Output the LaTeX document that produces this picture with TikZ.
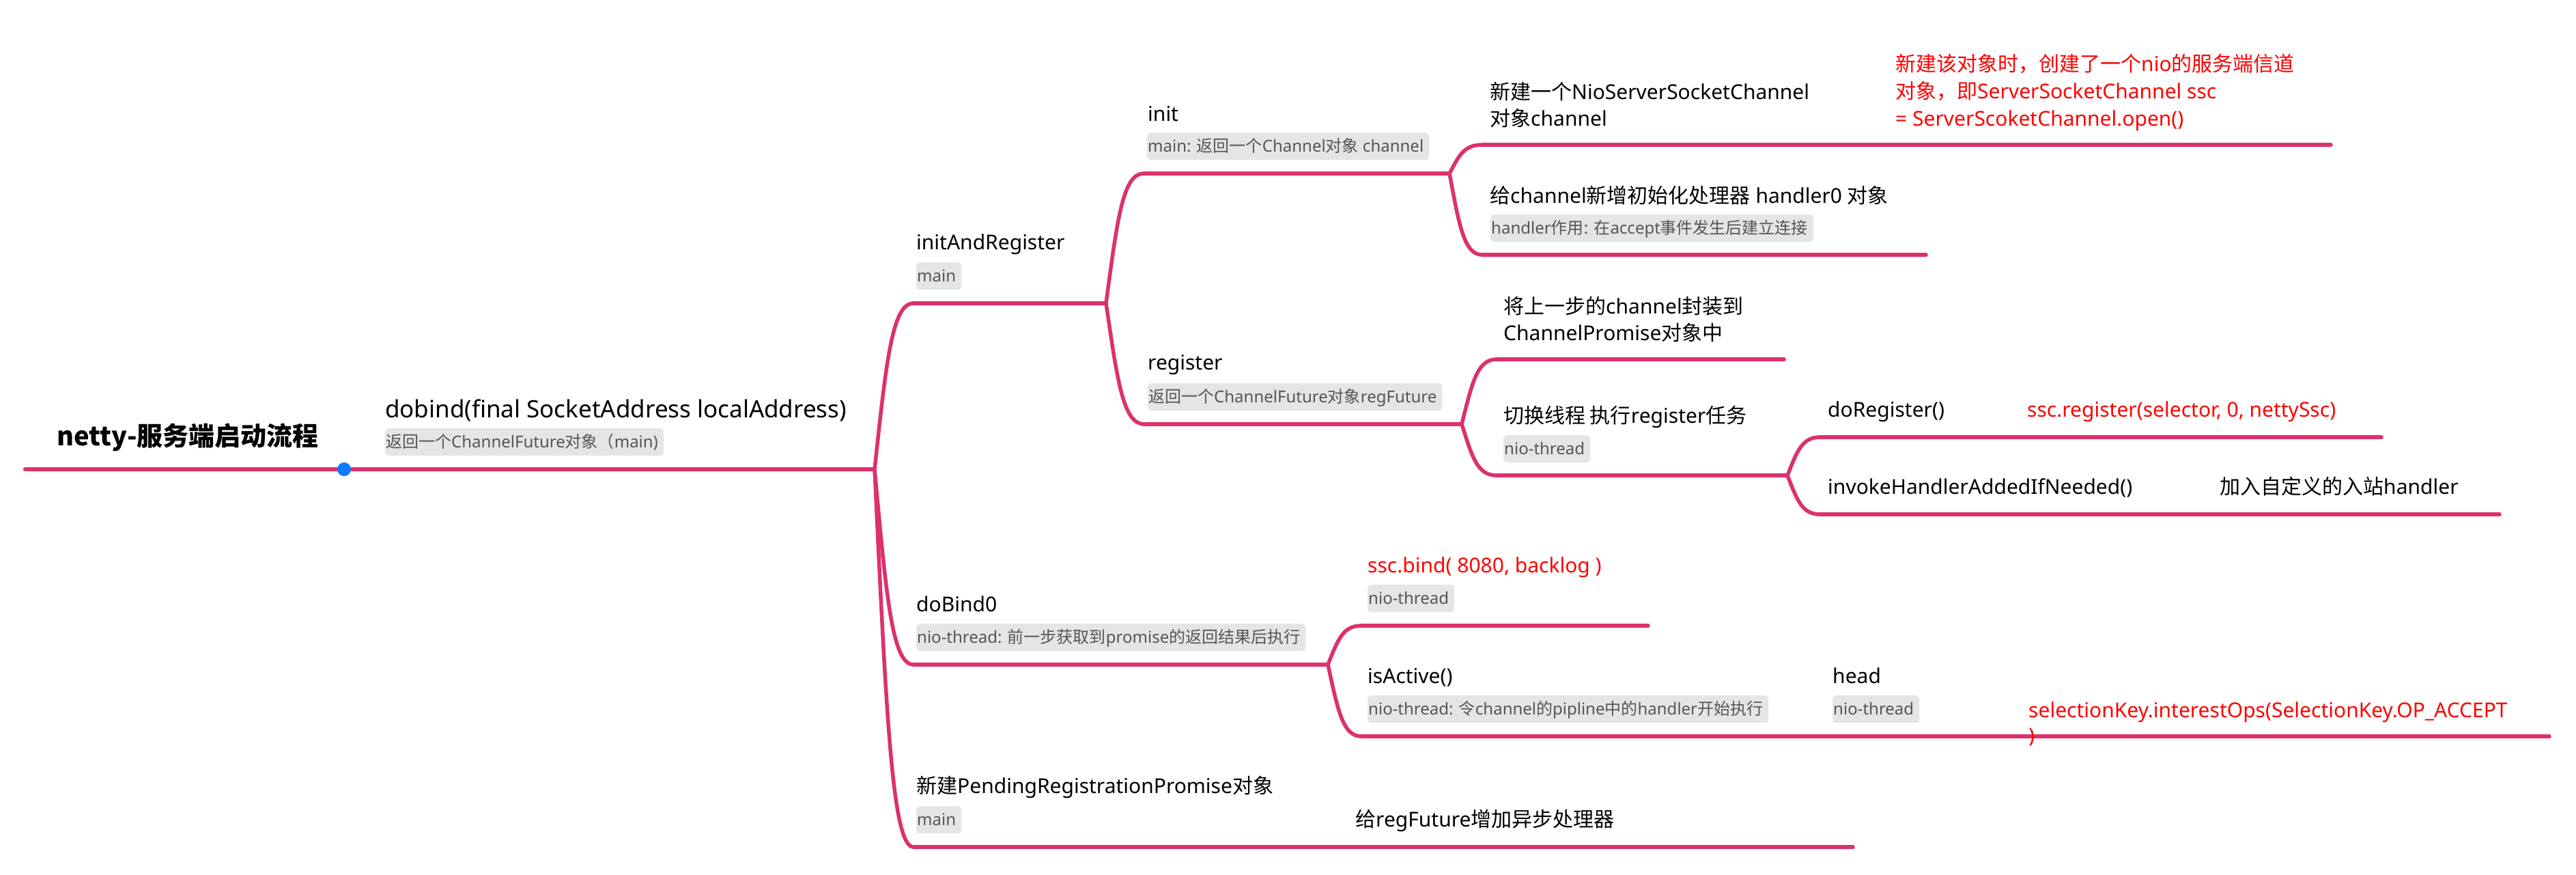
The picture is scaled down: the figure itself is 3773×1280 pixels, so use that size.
\documentclass[tikz,border=0pt]{standalone}
\usepackage{fontspec}
\setmainfont{Noto Sans}
\newfontfamily\cjk{Noto Sans CJK SC}
\usetikzlibrary{calc}
\definecolor{branchc}{RGB}{220,49,108}
\definecolor{subbg}{RGB}{229,229,229}
\definecolor{subtx}{RGB}{85,85,85}
\definecolor{redtx}{RGB}{255,0,0}
\definecolor{dotc}{RGB}{10,122,255}
\newcommand\zhs[1]{{\cjk #1}}
\tikzset{
  br/.style={draw=branchc, line width=5.5pt, line cap=round},
  brmain/.style={br, line width=6.5pt},
  branch/.style={to path={let \p1=(\tikztostart), \p2=(\tikztotarget) in
     .. controls ({\x1+0.3*(\x2-\x1)},{\y1+0.65*(\y2-\y1)}) and ({\x2-0.55*(\x2-\x1)},{\y2}) .. (\tikztotarget)}},
  topic/.style={anchor=base west, inner sep=0pt, font=\fontsize{30}{39}\selectfont},
  lvl1/.style={topic, font=\fontsize{35}{42}\selectfont},
  rootst/.style={anchor=base west, inner sep=0pt, font=\fontsize{38}{46}\selectfont\bfseries\cjk},
  redt/.style={topic, text=redtx},
  subl/.style={anchor=north west, fill=subbg, rounded corners=5pt, text=subtx,
     inner xsep=0pt, inner ysep=0pt, minimum height=40pt, text height=20pt, text depth=4pt,
     font=\fontsize{24}{30}\selectfont,
     execute at begin node={\kern1pt}, execute at end node={\kern8pt}},
}
\begin{document}
\begin{tikzpicture}[x=1pt,y=-1pt]
\fill[white] (0,0) rectangle (3773,1280);
\useasboundingbox (0,0) rectangle (3773,1280);
% underline end points
\coordinate (root-l) at (37,687);   \coordinate (root-r) at (504,687);
\coordinate (dobind-l) at (504,687); \coordinate (dobind-r) at (1281,687);
\coordinate (iar-l) at (1338,444);  \coordinate (iar-r) at (1620,444);
\coordinate (init-l) at (1675,254); \coordinate (init-r) at (2123,254);
\coordinate (nio-l) at (2171,212);  \coordinate (nio-r) at (2740,212);
\coordinate (nior-l) at (2766,212); \coordinate (nior-r) at (3414,212);
\coordinate (hdl-l) at (2171,373);  \coordinate (hdl-r) at (2821,373);
\coordinate (reg-l) at (1676,621);  \coordinate (reg-r) at (2141,621);
\coordinate (wrap-l) at (2192,526); \coordinate (wrap-r) at (2613,526);
\coordinate (swt-l) at (2192,696);  \coordinate (swt-r) at (2618,696);
\coordinate (doreg-l) at (2666,640); \coordinate (doreg-r) at (2935,640);
\coordinate (doregr-l) at (2960,640); \coordinate (doregr-r) at (3488,640);
\coordinate (inv-l) at (2666,753);  \coordinate (inv-r) at (3215,753);
\coordinate (invr-l) at (3242,753); \coordinate (invr-r) at (3661,753);
\coordinate (dob0-l) at (1338,973); \coordinate (dob0-r) at (1945,973);
\coordinate (bind-l) at (1994,916); \coordinate (bind-r) at (2414,916);
\coordinate (act-l) at (1994,1078); \coordinate (act-r) at (2640,1078);
\coordinate (head-l) at (2675,1078); \coordinate (head-r) at (2935,1078);
\coordinate (selk-l) at (2962,1078); \coordinate (selk-r) at (3734,1078);
\coordinate (pend-l) at (1338,1240); \coordinate (pend-r) at (1950,1240);
\coordinate (rf-l) at (1976,1240);  \coordinate (rf-r) at (2714,1240);
% underlines
\draw[brmain] (root-l) -- (root-r);
\draw[brmain] (dobind-l) -- (dobind-r);
\foreach \t in {iar,init,nio,nior,hdl,reg,wrap,swt,doreg,doregr,inv,invr,dob0,bind,act,head,selk,pend,rf}
  {\draw[br] (\t-l) -- (\t-r);}
% connectors
\draw[br] (dobind-r) to[branch] (iar-l);
\draw[br] (dobind-r) to[branch] (dob0-l);
\draw[br] (dobind-r) to[branch] (pend-l);
\draw[br] (iar-r) to[branch] (init-l);
\draw[br] (iar-r) to[branch] (reg-l);
\draw[br] (init-r) to[branch] (nio-l);
\draw[br] (init-r) to[branch] (hdl-l);
\draw[br] (nio-r) to[branch] (nior-l);
\draw[br] (reg-r) to[branch] (wrap-l);
\draw[br] (reg-r) to[branch] (swt-l);
\draw[br] (swt-r) to[branch] (doreg-l);
\draw[br] (swt-r) to[branch] (inv-l);
\draw[br] (doreg-r) to[branch] (doregr-l);
\draw[br] (inv-r) to[branch] (invr-l);
\draw[br] (dob0-r) to[branch] (bind-l);
\draw[br] (dob0-r) to[branch] (act-l);
\draw[br] (act-r) to[branch] (head-l);
\draw[br] (head-r) to[branch] (selk-l);
\draw[br] (pend-r) to[branch] (rf-l);
\node[circle, fill=dotc, minimum size=20pt, inner sep=0pt] (dot) at (root-r) {};
% texts
\node[rootst] (root) at (83,652) {netty-服务端启动流程};
\node[lvl1] (dobind) at (564,611) {dobind(final SocketAddress localAddress)};
\node[subl] (dobind-s) at (564,627) {\zhs{返回一个}ChannelFuture\zhs{对象（}main)};
\node[topic] (iar) at (1342,365) {initAndRegister};
\node[subl] (iar-s) at (1342,384) {main};
\node[topic] (init) at (1681,177) {init};
\node[subl] (init-s) at (1680,194) {main: \zhs{返回一个}Channel\zhs{对象} channel};
\node[topic] (nio) at (2182,145) {\vtop{\hbox{\zhs{新建一个}NioServerSocketChannel}\hbox{\zhs{对象}channel}}};
\node[redt, font=\fontsize{30}{40}\selectfont] (nior) at (2776,104) {\vtop{\hbox{\zhs{新建该对象时，创建了一个}nio\zhs{的服务端信道}}\hbox{\zhs{对象，即}ServerSocketChannel ssc}\hbox{= ServerScoketChannel.open()}}};
\node[topic] (hdl) at (2182,297) {\zhs{给}channel\zhs{新增初始化处理器} handler0 \zhs{对象}};
\node[subl] (hdl-s) at (2183,314) {handler\zhs{作用}: \zhs{在}accept\zhs{事件发生后建立连接}};
\node[topic] (reg) at (1681,541) {register};
\node[subl] (reg-s) at (1681,561) {\zhs{返回一个}ChannelFuture\zhs{对象}regFuture};
\node[topic] (wrap) at (2202,459) {\vtop{\hbox{\zhs{将上一步的}channel\zhs{封装到}}\hbox{ChannelPromise\zhs{对象中}}}};
\node[topic] (swt) at (2202,619) {\zhs{切换线程 执行}register\zhs{任务}};
\node[subl] (swt-s) at (2202,637) {nio-thread};
\node[topic] (doreg) at (2677,610) {doRegister()};
\node[redt] (doregr) at (2969,610) {ssc.register(selector, 0, nettySsc)};
\node[topic] (inv) at (2677,723) {invokeHandlerAddedIfNeeded()};
\node[topic] (invr) at (3251,723) {\zhs{加入自定义的入站}handler};
\node[topic] (dob0) at (1342,895) {doBind0};
\node[subl] (dob0-s) at (1342,913) {nio-thread: \zhs{前一步获取到}promise\zhs{的返回结果后执行}};
\node[redt] (bind) at (2003,838) {ssc.bind( 8080, backlog )};
\node[subl] (bind-s) at (2003,856) {nio-thread};
\node[topic] (act) at (2003,1000) {isActive()};
\node[subl] (act-s) at (2003,1018) {nio-thread: \zhs{令}channel\zhs{的}pipline\zhs{中的}handler\zhs{开始执行}};
\node[topic] (head) at (2684,1000) {head};
\node[subl] (head-s) at (2684,1018) {nio-thread};
\node[redt, font=\fontsize{30}{37}\selectfont] (selk) at (2971,1050) {\vtop{\hbox{selectionKey.interestOps(SelectionKey.OP\_ACCEPT}\hbox{)}}};
\node[topic] (pend) at (1342,1161) {\zhs{新建}PendingRegistrationPromise\zhs{对象}};
\node[subl] (pend-s) at (1342,1180) {main};
\node[topic] (rf) at (1985,1210) {\zhs{给}regFuture\zhs{增加异步处理器}};
\end{tikzpicture}
\end{document}
